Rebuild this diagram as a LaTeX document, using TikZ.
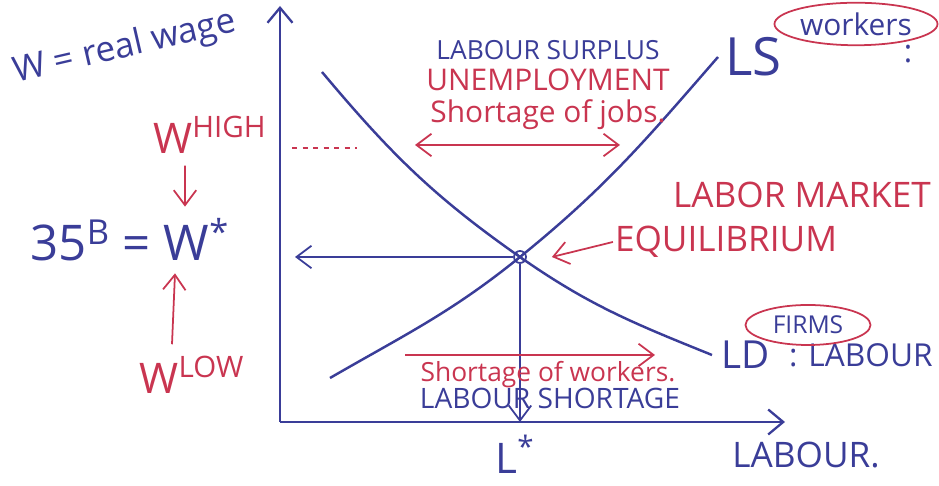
\documentclass[tikz,border=0pt]{standalone}
\usepackage{fontspec}
\setmainfont{Open Sans}
\usetikzlibrary{arrows.meta, positioning, shapes.geometric}

\definecolor{penBlue}{HTML}{3A3D98}
\definecolor{penRed}{HTML}{C93550}

\newcommand\penfont[1]{\fontsize{#1}{#1}\selectfont}

\tikzset{
  axisline/.style={-{Straight Barb[length=3mm, width=5mm]}, line width=1.3pt, penBlue},
  market/.style={line width=1.4pt, penBlue},
  guide/.style={-{Straight Barb[length=3mm, width=4.5mm]}, line width=1pt, penBlue},
  redflow/.style={-{Straight Barb[length=3mm, width=4.5mm]}, line width=1pt, penRed},
  bluetag/.style={text=penBlue, inner sep=1pt},
  redtag/.style={text=penRed, inner sep=1pt},
  bubble/.style={draw=penRed, line width=1pt, ellipse, text=penBlue, inner sep=1pt},
  eqmark/.style={draw=penBlue, line width=1pt, circle, minimum size=2.4mm, inner sep=0pt}
}

\begin{document}
\begin{tikzpicture}[x=0.2mm, y=0.2mm, node distance=1mm]
  \useasboundingbox (0,0) rectangle (939,486);

  % axes
  \coordinate (origin) at (280,64);
  \coordinate (ytop) at (280,480);
  \coordinate (xend) at (785,64);
  \draw[axisline] (origin) -- (ytop);
  \draw[axisline] (origin) -- (xend);

  % supply and demand
  \node[eqmark] (eq) at (520,229) {};
  \draw[penBlue, line width=0.8pt] (eq.north west) -- (eq.south east)
    (eq.north east) -- (eq.south west);
  \coordinate (lsLo) at (330,108);
  \coordinate (lsHi) at (718,429);
  \coordinate (ldHi) at (322,414);
  \coordinate (ldLo) at (712,131);
  \draw[market] (lsLo) to[out=30, in=219] (eq.center) to[out=39, in=229] (lsHi);
  \draw[market] (ldHi) to[out=-50, in=145] (eq.center) to[out=-35, in=158] (ldLo);

  % equilibrium read-off
  \draw[guide] (eq.west) -- ([xshift=3mm]eq -| origin);
  \draw[guide] (eq.south) -- (eq |- origin);

  % wage side
  \node[bluetag, font=\penfont{20}, rotate=13] (realwage) at (125,438) {W = real wage};
  \node[redtag, font=\penfont{24}] (whigh) at (210,351) {W\textsuperscript{HIGH}};
  \node[bluetag, font=\penfont{28}] (wstar) at (130,246) {35\textsuperscript{B} = W\textsuperscript{*}};
  \node[redtag, font=\penfont{24}] (wlow) at (192,111) {W\textsuperscript{LOW}};
  \draw[redflow] ([xshift=-5mm, yshift=-2mm]whigh.south) -- ([xshift=11mm, yshift=2mm]wstar.north);
  \draw[redflow] ([xshift=-4mm, yshift=2mm]wlow.north) -- ([xshift=9mm, yshift=-2mm]wstar.south);
  \coordinate (highlvl) at (292,338);
  \draw[penRed, dashed, line width=1pt] (highlvl) -- ++(65,0);

  % above equilibrium
  \node[bluetag, font=\penfont{15}] (surplus) at (548,436) {LABOUR SURPLUS};
  \node[redtag, font=\penfont{17}, below=1mm of surplus] (unemp) {UNEMPLOYMENT};
  \node[redtag, font=\penfont{17}, below=1mm of unemp] (jobs) {Shortage of jobs.};
  \coordinate (jobsL) at (415,341);
  \coordinate (jobsR) at (620,341);
  \draw[redflow, {Straight Barb[length=3mm, width=4.5mm]}-{Straight Barb[length=3mm, width=4.5mm]}] (jobsL) -- (jobsR);

  % labels on the right
  \node[bluetag, font=\penfont{30}, anchor=west] (lslabel) at ([xshift=1mm]lsHi) {LS};
  \node[bubble, font=\penfont{17}, minimum width=3cm, minimum height=0.85cm] (workers) at (856,462) {workers};
  \node[bluetag, font=\penfont{18}] (colon) at (908,432) {:};
  \node[redtag, font=\penfont{20}] (market) at (802,291) {LABOR MARKET};
  \node[redtag, font=\penfont{20}] (eqtext) at (726,244) {EQUILIBRIUM};
  \draw[redflow] (eqtext.west) -- ([xshift=5mm]eq.east);
  \node[bluetag, font=\penfont{22}, anchor=west] (ldlabel) at ([xshift=1.5mm]ldLo) {LD};
  \node[bluetag, font=\penfont{18}, right=3mm of ldlabel] (ldtext) {: LABOUR};
  \node[bubble, font=\penfont{14}, minimum width=2.5cm, minimum height=0.8cm] (firms) at (808,161) {FIRMS};

  % below equilibrium
  \coordinate (workL) at (405,131);
  \coordinate (workR) at (655,131);
  \draw[redflow] (workL) -- (workR);
  \node[redtag, font=\penfont{15}] (shortwork) at (548,111) {Shortage of workers.};
  \node[bluetag, font=\penfont{16}] (shortage) at (550,88) {LABOUR SHORTAGE};

  % quantity side
  \node[bluetag, font=\penfont{24}] (lstar) at (515,32) {L\textsuperscript{*}};
  \node[bluetag, font=\penfont{20}] (labour) at (806,31) {LABOUR.};
\end{tikzpicture}
\end{document}
